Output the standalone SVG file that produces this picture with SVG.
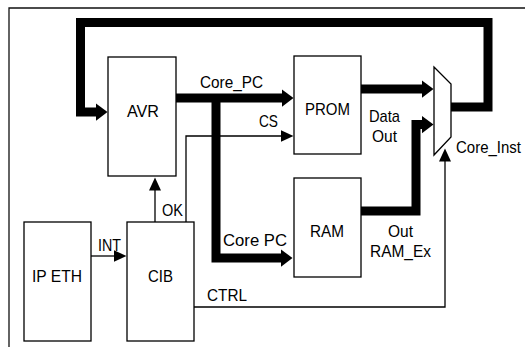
<svg xmlns="http://www.w3.org/2000/svg" width="525" height="347" viewBox="0 0 525 347">
<style>
.box{fill:#fff;stroke:#000;stroke-width:1.3}
.thin{fill:none;stroke:#000;stroke-width:1.3}
.thick{fill:none;stroke:#000;stroke-width:9}
.frame{fill:none;stroke:#111;stroke-width:1.3}
text{font-family:"Liberation Sans",Arial,sans-serif;font-size:17px;fill:#000}
</style>
<defs>
<marker id="ah" markerUnits="userSpaceOnUse" markerWidth="14" markerHeight="14" viewBox="0 -7 14 14" refX="0.5" refY="0" orient="auto"><path d="M0,-6 L13,0 L0,6 z" fill="#000"/></marker>
<marker id="ahT" markerUnits="userSpaceOnUse" markerWidth="14" markerHeight="20" viewBox="0 -10 14 20" refX="0.5" refY="0" orient="auto"><path d="M0,-9 L12,0 L0,9 z" fill="#000"/></marker>
</defs>
<path class="frame" d="M9,347 V8 H525"/>
<g id="connectors">
<path class="thick" d="M451,107 H488 V22.5 H80.5 V112 H96" marker-end="url(#ahT)"/>
<path class="thick" d="M176,98 H282" marker-end="url(#ahT)"/>
<path class="thick" d="M216,98 V258 H281" marker-end="url(#ahT)"/>
<path class="thick" d="M361,89 H422" marker-end="url(#ahT)"/>
<path class="thick" d="M361,211 H416 V124.5 H422" marker-end="url(#ahT)"/>
<path class="thin" d="M186,222 V136 H281" marker-end="url(#ah)"/>
<path class="thin" d="M155,222 V190" marker-end="url(#ah)"/>
<path class="thin" d="M91,256 H114" marker-end="url(#ah)"/>
<path class="thin" d="M194,307 H445 V161" marker-end="url(#ah)"/>
<text x="200" y="88" textLength="63" lengthAdjust="spacingAndGlyphs">Core_PC</text>
<text x="259" y="127" textLength="19" lengthAdjust="spacingAndGlyphs">CS</text>
<text x="369" y="122" textLength="31" lengthAdjust="spacingAndGlyphs">Data</text>
<text x="372" y="142" textLength="25" lengthAdjust="spacingAndGlyphs">Out</text>
<text x="456" y="153" textLength="65" lengthAdjust="spacingAndGlyphs">Core_Inst</text>
<text x="162" y="216" textLength="21" lengthAdjust="spacingAndGlyphs">OK</text>
<text x="98" y="251" textLength="23" lengthAdjust="spacingAndGlyphs">INT</text>
<text x="207" y="301" textLength="40" lengthAdjust="spacingAndGlyphs">CTRL</text>
<text x="223" y="246" textLength="64" lengthAdjust="spacingAndGlyphs">Core  PC</text>
<text x="388" y="237" textLength="25" lengthAdjust="spacingAndGlyphs">Out</text>
<text x="370" y="257" textLength="61" lengthAdjust="spacingAndGlyphs">RAM_Ex</text>
</g>
<g id="avr">
<rect class="box" x="108" y="57" width="68" height="119"/>
<text x="127" y="117" textLength="32" lengthAdjust="spacingAndGlyphs">AVR</text>
</g>
<g id="prom">
<rect class="box" x="294" y="56" width="67" height="98"/>
<text x="305" y="115" textLength="45" lengthAdjust="spacingAndGlyphs">PROM</text>
</g>
<g id="ram">
<rect class="box" x="294" y="178" width="67" height="99"/>
<text x="310" y="237" textLength="34" lengthAdjust="spacingAndGlyphs">RAM</text>
</g>
<g id="ipeth">
<rect class="box" x="24" y="222" width="67" height="119"/>
<text x="32" y="282" textLength="50" lengthAdjust="spacingAndGlyphs">IP ETH</text>
</g>
<g id="cib">
<rect class="box" x="127" y="222" width="67" height="119"/>
<text x="148" y="282" textLength="25" lengthAdjust="spacingAndGlyphs">CIB</text>
</g>
<g id="mux">
<polygon class="box" points="434,67 451,84 451,137 434,155"/>
</g>
</svg>
